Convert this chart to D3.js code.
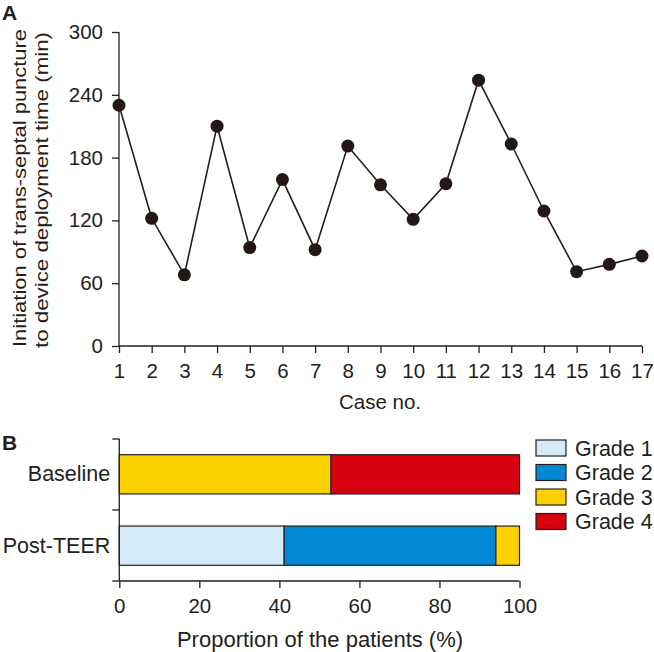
<!DOCTYPE html>
<html><head><meta charset="utf-8">
<script src="https://cdn.jsdelivr.net/npm/d3@7"></script>
<style>body{margin:0;background:#fff}svg{display:block}text{font-family:"Liberation Sans",Arial,sans-serif;fill:#231f20}</style>
</head><body><div id="chart"></div>
<script>
const cases = [1,2,3,4,5,6,7,8,9,10,11,12,13,14,15,16,17];
const times = [230,122,68,210,94,159,92,191,154,121,155,254,193,129,71,78,86];
const yTicksA = [0,60,120,180,240,300];
const groups = ["Baseline","Post-TEER"];
const grades = ["Grade 1","Grade 2","Grade 3","Grade 4"];
const grade1 = [0,41.2];
const grade2 = [0,52.9];
const grade3 = [52.9,5.9];
const grade4 = [47.1,0];
const xTicksB = [0,20,40,60,80,100];
const colors = ["#d3eaf8","#0088d3","#fdd100","#d7000f"];

const W=654,H=652, ink="#231f20", fs="20.5px", fsC="21.5px";
const svg=d3.select("#chart").append("svg").attr("width",W).attr("height",H);

// ---------- Panel A ----------
const xA=d3.scaleLinear().domain([1,17]).range([119,642]);
const yA=d3.scaleLinear().domain([0,300]).range([346,32]);
const gA=svg.append("g");
const axL=gA.append("g").attr("transform","translate(119,0)")
  .call(d3.axisLeft(yA).tickValues(yTicksA).tickSize(7).tickPadding(9));
const axB=gA.append("g").attr("transform","translate(0,346)")
  .call(d3.axisBottom(xA).tickValues(cases).tickSize(7).tickPadding(10).tickFormat(d3.format("d")));
[axL,axB].forEach(a=>{a.select(".domain").attr("stroke",ink).attr("stroke-width",1.3);
  a.selectAll(".tick line").attr("stroke",ink).attr("stroke-width",1.3);
  a.selectAll("text").style("font-size",fs).attr("fill",ink);});
axL.select(".domain").attr("d","M0,32V346");
axB.select(".domain").attr("d","M119,0H642");
gA.append("path").datum(cases.map((c,i)=>[c,times[i]]))
  .attr("fill","none").attr("stroke",ink).attr("stroke-width",1.6)
  .attr("d",d3.line().x(d=>xA(d[0])).y(d=>yA(d[1])));
gA.selectAll("circle").data(cases.map((c,i)=>[c,times[i]])).join("circle")
  .attr("cx",d=>xA(d[0])).attr("cy",d=>yA(d[1])).attr("r",6.5).attr("fill","#231815");
svg.append("text").attr("x",380).attr("y",408.5).attr("text-anchor","middle").style("font-size",fs).text("Case no.");
svg.append("text").attr("transform","translate(26,188) rotate(-90)").attr("text-anchor","middle")
  .style("font-size","19px").attr("textLength",318).attr("lengthAdjust","spacingAndGlyphs")
  .text("Initiation of trans-septal puncture");
svg.append("text").attr("transform","translate(48,190) rotate(-90)").attr("text-anchor","middle")
  .style("font-size","19px").attr("textLength",316).attr("lengthAdjust","spacingAndGlyphs")
  .text("to device deployment time (min)");
svg.append("text").attr("x",2).attr("y",20).style("font-size","21px").style("font-weight","bold").text("A");

// ---------- Panel B ----------
const xB=d3.scaleLinear().domain([0,100]).range([119.3,519.5]);
const yB=d3.scaleBand().domain(groups).range([439,581]).paddingInner(0.45).paddingOuter(0.22);
const gB=svg.append("g");
const stackData=groups.map((g,i)=>({group:g,"Grade 1":grade1[i],"Grade 2":grade2[i],"Grade 3":grade3[i],"Grade 4":grade4[i]}));
const series=d3.stack().keys(grades)(stackData);
series.forEach((s,k)=>{
  gB.selectAll(null).data(s.filter(d=>d[1]-d[0]>0)).join("rect")
    .attr("x",d=>xB(d[0])).attr("width",d=>xB(d[1])-xB(d[0]))
    .attr("y",d=>yB(d.data.group)).attr("height",yB.bandwidth())
    .attr("fill",colors[k]).attr("stroke",ink).attr("stroke-width",1.2);
});
const bL=gB.append("g").attr("transform","translate(119.3,0)")
  .call(d3.axisLeft(yB).tickSize(0).tickPadding(9));
bL.select(".domain").attr("d","M0,439V581").attr("stroke",ink).attr("stroke-width",1.3);
bL.selectAll("text").style("font-size",fsC).attr("fill",ink);
[439,510,581].forEach(y=>gB.append("line").attr("x1",112.3).attr("x2",119.3).attr("y1",y).attr("y2",y).attr("stroke",ink).attr("stroke-width",1.3));
const bB=gB.append("g").attr("transform","translate(0,581)")
  .call(d3.axisBottom(xB).tickValues(xTicksB).tickSize(7).tickPadding(10));
bB.select(".domain").attr("d","M119.3,0H519.5").attr("stroke",ink).attr("stroke-width",1.3);
bB.selectAll(".tick line").attr("stroke",ink).attr("stroke-width",1.3);
bB.selectAll("text").style("font-size",fs).attr("fill",ink);
svg.append("text").attr("x",320).attr("y",646.5).attr("text-anchor","middle").style("font-size","22px").text("Proportion of the patients (%)");
svg.append("text").attr("x",2).attr("y",450).style("font-size","21px").style("font-weight","bold").text("B");

// legend
const lg=svg.append("g").attr("transform","translate(536,440)");
grades.forEach((g,i)=>{
  lg.append("rect").attr("x",0).attr("y",i*24.5).attr("width",30).attr("height",16)
    .attr("fill",colors[i]).attr("stroke",ink).attr("stroke-width",1.2);
  lg.append("text").attr("x",39).attr("y",i*24.5+15.5).style("font-size",fsC).text(g);
});
</script></body></html>
